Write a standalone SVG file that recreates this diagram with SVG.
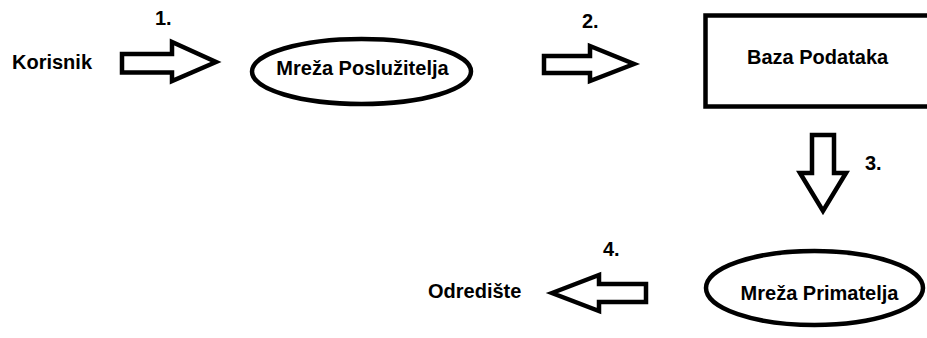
<svg xmlns="http://www.w3.org/2000/svg" width="927" height="338" viewBox="0 0 927 338">
  <style>
    .t { font-family: "Liberation Sans", Arial, sans-serif; font-weight: bold; font-size: 20px; fill: #000; }
    .shape { fill: #fff; stroke: #000; stroke-width: 4.5; }
    .arrow { fill: #fff; stroke: #000; stroke-width: 4.5; stroke-linejoin: miter; }
  </style>
  <rect width="927" height="338" fill="#fff"/>
  <g id="korisnik">
    <text class="t" x="12" y="69">Korisnik</text>
  </g>
  <g id="mreza-posluzitelja">
    <ellipse class="shape" cx="361.5" cy="71.5" rx="109.5" ry="32.5"/>
    <text class="t" x="362.5" y="75" text-anchor="middle">Mreža Poslužitelja</text>
  </g>
  <g id="baza-podataka">
    <rect class="shape" x="705.5" y="15.5" width="240" height="91" stroke-width="5"/>
    <text class="t" x="747" y="64">Baza Podataka</text>
  </g>
  <g id="mreza-primatelja">
    <ellipse class="shape" cx="814.5" cy="288" rx="108.5" ry="37"/>
    <text class="t" x="819.5" y="300" text-anchor="middle">Mreža Primatelja</text>
  </g>
  <g id="odrediste">
    <text class="t" x="428" y="298">Odredište</text>
  </g>
  <g id="connectors">
    <polygon class="arrow" points="122,54 172,54 172,42 216,62 172,81 172,72.5 122,72.5"/>
    <text class="t" x="155" y="25">1.</text>
    <polygon class="arrow" points="544,56 590,56 590,46 634,64 590,81 590,73 544,73"/>
    <text class="t" x="582" y="28">2.</text>
    <polygon class="arrow" points="812,135 834,135 834,173 846,173 823,211 800,173 812,173"/>
    <text class="t" x="865" y="170">3.</text>
    <polygon class="arrow" points="552,293 599,275 599,284 646,284 646,302 599,302 599,311"/>
    <text class="t" x="603" y="256">4.</text>
  </g>
</svg>
